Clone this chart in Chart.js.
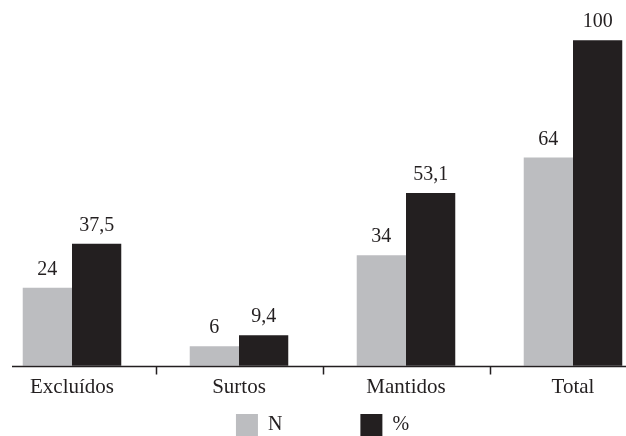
<!DOCTYPE html>
<html>
<head>
<meta charset="utf-8">
<script src="https://cdn.jsdelivr.net/npm/chart.js@4/dist/chart.umd.min.js"></script>
<style>
  html, body { margin: 0; padding: 0; background: #fff; overflow: hidden; }
  #wrap { width: 626px; height: 436px; overflow: hidden; }
</style>
</head>
<body>
<div id="wrap"><canvas id="chart" width="626" height="446"></canvas></div>
<script>
const categories = ['Excluídos', 'Surtos', 'Mantidos', 'Total'];
const nValues = [24, 6, 34, 64];
const pctValues = [37.5, 9.4, 53.1, 100];
const seriesNames = ['N', '%'];

const GRAY = '#bcbdc0';
const BLACK = '#231f20';
const FONT = '"Liberation Serif", "Times New Roman", serif';

// value labels above each bar, decimal comma
const valueLabels = {
    id: 'valueLabels',
    afterDatasetsDraw(chart) {
        const ctx = chart.ctx;
        ctx.save();
        ctx.font = '20px ' + FONT;
        ctx.fillStyle = BLACK;
        ctx.textAlign = 'center';
        ctx.textBaseline = 'alphabetic';
        chart.data.datasets.forEach((ds, i) => {
            chart.getDatasetMeta(i).data.forEach((bar, j) => {
                const txt = String(ds.data[j]).replace('.', ',');
                ctx.fillText(txt, bar.x, bar.y - 13);
            });
        });
        ctx.restore();
    }
};

// baseline running past the plot area, with ticks between categories
const baseline = {
    id: 'baseline',
    afterDatasetsDraw(chart) {
        const ctx = chart.ctx;
        const x = chart.scales.x;
        const y0 = Math.round(chart.scales.y.getPixelForValue(0)) + 0.5;
        ctx.save();
        ctx.strokeStyle = BLACK;
        ctx.lineWidth = 1.5;
        ctx.beginPath();
        ctx.moveTo(12, y0);
        ctx.lineTo(chart.width, y0);
        for (let i = 0; i < categories.length - 1; i++) {
            const tx = Math.round((x.getPixelForValue(i) + x.getPixelForValue(i + 1)) / 2) + 0.5;
            ctx.moveTo(tx, y0);
            ctx.lineTo(tx, y0 + 8);
        }
        ctx.stroke();
        ctx.restore();
    }
};

new Chart(document.getElementById('chart'), {
    type: 'bar',
    data: {
        labels: categories,
        datasets: [{
            label: seriesNames[0],
            data: nValues,
            backgroundColor: GRAY,
            clip: false,
            categoryPercentage: 0.59,
            barPercentage: 1
        }, {
            label: seriesNames[1],
            data: pctValues,
            backgroundColor: BLACK,
            clip: false,
            categoryPercentage: 0.59,
            barPercentage: 1
        }]
    },
    options: {
        responsive: false,
        animation: false,
        layout: {
            padding: { left: 72, right: 53, top: 0, bottom: 0 }
        },
        plugins: {
            legend: {
                position: 'bottom',
                labels: {
                    boxWidth: 22,
                    boxHeight: 22,
                    padding: 13,
                    color: BLACK,
                    font: { family: FONT, size: 20 },
                    generateLabels(chart) {
                        const items = Chart.defaults.plugins.legend.labels.generateLabels(chart);
                        // wide gap after the first entry, as in the original
                        items[0].text = items[0].text + '\u00a0'.repeat(13);
                        return items;
                    }
                }
            },
            tooltip: { enabled: false }
        },
        scales: {
            x: {
                offset: false,
                grid: { display: false },
                border: { display: false },
                ticks: {
                    color: BLACK,
                    padding: 1,
                    font: { family: FONT, size: 21 }
                }
            },
            y: {
                display: false,
                min: 0,
                max: 112.4
            }
        }
    },
    plugins: [valueLabels, baseline]
});
</script>
</body>
</html>
